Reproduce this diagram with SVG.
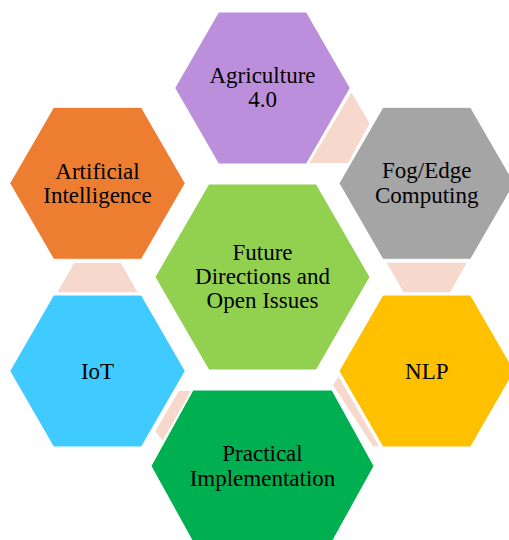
<svg xmlns="http://www.w3.org/2000/svg" width="509" height="540" viewBox="0 0 509 540">
<style>
.hex{stroke:#ffffff;stroke-width:1}
.con{fill:#F6D8CD}
.t{font-family:'Liberation Serif','Times New Roman',serif;font-size:23px;fill:#000000;text-anchor:middle}
</style>
<rect width="509" height="540" fill="#ffffff"/>
<g id="connectors">
<polygon class="con" points="351.5,92.5 369.5,123.5 348,163 309.5,163"/>
<polygon class="con" points="386.75,262.7 466.75,262.7 450,292.3 403.5,292.3"/>
<polygon class="con" points="333,385 338.5,376.5 379,446.3 373,446.3"/>
<polygon class="con" points="178.8,391 190.7,391 162.7,440.7 155.5,431.3"/>
<polygon class="con" points="74.3,262.7 120.7,262.7 137.5,292.3 57.5,292.3"/>
</g>
<g id="agriculture">
<polygon class="hex" fill="#BC8FDD" points="174.75,88 218.6,12 306.4,12 350.25,88 306.4,164 218.6,164"/>
<text class="t" font-family="Liberation Serif, serif" x="262.5" y="82.7">Agriculture</text>
<text class="t" font-family="Liberation Serif, serif" x="262.5" y="107.3">4.0</text>
</g>
<g id="fog-edge">
<polygon class="hex" fill="#A5A5A5" points="339,183.3 382.9,107.3 470.6,107.3 514.5,183.3 470.6,259.3 382.9,259.3"/>
<text class="t" font-family="Liberation Serif, serif" x="426.75" y="178.3">Fog/Edge</text>
<text class="t" font-family="Liberation Serif, serif" x="426.75" y="202.7">Computing</text>
</g>
<g id="artificial-intelligence">
<polygon class="hex" fill="#ED7D31" points="9.75,183.3 53.6,107.3 141.4,107.3 185.25,183.3 141.4,259.3 53.6,259.3"/>
<text class="t" font-family="Liberation Serif, serif" x="97.5" y="178.7">Artificial</text>
<text class="t" font-family="Liberation Serif, serif" x="97.5" y="203.3">Intelligence</text>
</g>
<g id="future-directions">
<polygon class="hex" fill="#92D050" points="155,277 208.75,184 316.25,184 370,277 316.25,370 208.75,370"/>
<text class="t" font-family="Liberation Serif, serif" x="262.5" y="260">Future</text>
<text class="t" font-family="Liberation Serif, serif" x="262.5" y="284.3">Directions and</text>
<text class="t" font-family="Liberation Serif, serif" x="262.5" y="308.3">Open Issues</text>
</g>
<g id="iot">
<polygon class="hex" fill="#3FCBFF" points="9.75,371 53.6,295 141.4,295 185.25,371 141.4,447 53.6,447"/>
<text class="t" font-family="Liberation Serif, serif" x="97.5" y="379">IoT</text>
</g>
<g id="nlp">
<polygon class="hex" fill="#FFC000" points="339,371 382.9,295 470.6,295 514.5,371 470.6,447 382.9,447"/>
<text class="t" font-family="Liberation Serif, serif" x="426.75" y="379">NLP</text>
</g>
<g id="practical-implementation">
<polygon class="hex" fill="#00B050" points="151,466 193,390 332,390 374,466 332,542 193,542"/>
<text class="t" font-family="Liberation Serif, serif" x="262.5" y="461">Practical</text>
<text class="t" font-family="Liberation Serif, serif" x="262.5" y="485.5">Implementation</text>
</g>
</svg>
